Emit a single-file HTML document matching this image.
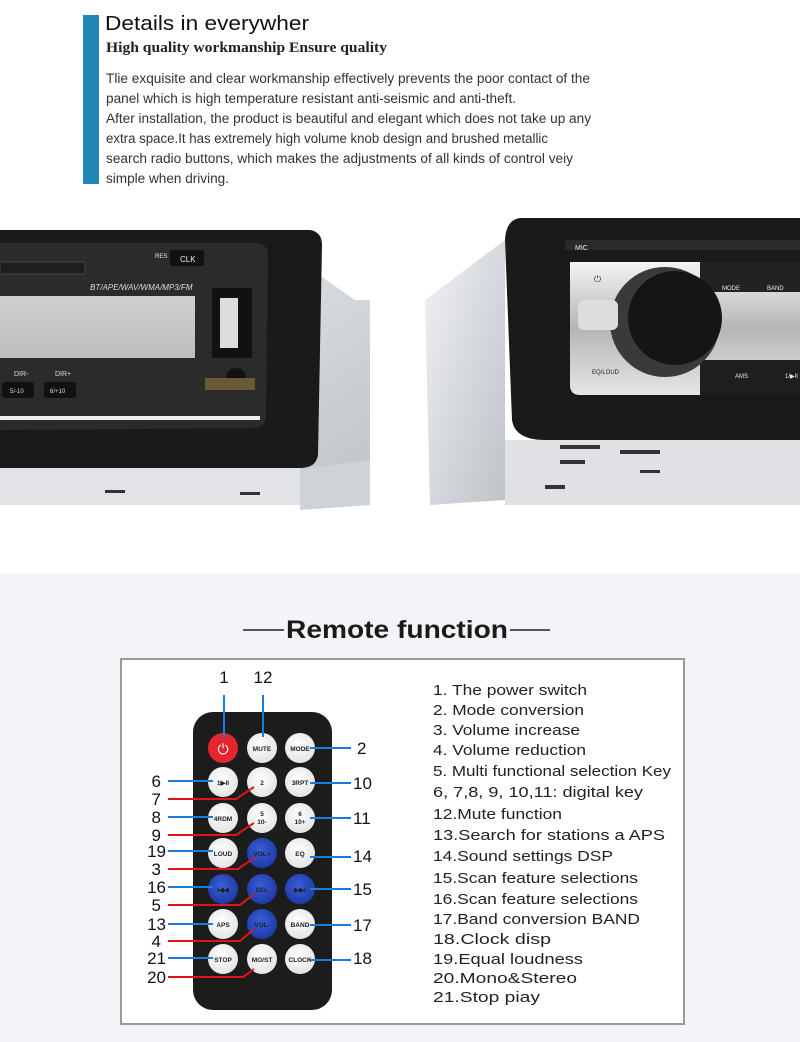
<!DOCTYPE html>
<html><head><meta charset="utf-8"><style>
html,body{margin:0;padding:0;width:800px;height:1042px;overflow:hidden;background:#fff}
svg{display:block}
</style></head><body>
<svg width="800" height="1042" viewBox="0 0 800 1042" xmlns="http://www.w3.org/2000/svg" font-family="Liberation Sans, sans-serif">
<defs>
<linearGradient id="metal" x1="0" y1="0" x2="1" y2="1"><stop offset="0" stop-color="#f2f3f5"/><stop offset="0.5" stop-color="#d6d9dd"/><stop offset="1" stop-color="#bfc3c8"/></linearGradient>
<linearGradient id="chrome" x1="0" y1="0" x2="0" y2="1"><stop offset="0" stop-color="#f4f4f4"/><stop offset="0.5" stop-color="#b5b5b5"/><stop offset="1" stop-color="#e6e6e6"/></linearGradient>
<linearGradient id="lcd" x1="0" y1="0" x2="0" y2="1"><stop offset="0" stop-color="#d0d0d0"/><stop offset="1" stop-color="#bdbdbd"/></linearGradient>
<radialGradient id="blue" cx="0.45" cy="0.4" r="0.6"><stop offset="0" stop-color="#3b5fd6"/><stop offset="1" stop-color="#1d3aa8"/></radialGradient>
<radialGradient id="white" cx="0.45" cy="0.4" r="0.6"><stop offset="0" stop-color="#fff"/><stop offset="1" stop-color="#e4e4e4"/></radialGradient>
</defs>
<!-- header -->
<rect x="83" y="15" width="16" height="169" fill="#1f86b5"/>
<text x="105" y="30" font-size="20" fill="#111" textLength="204" lengthAdjust="spacingAndGlyphs">Details in everywher</text>
<text x="106" y="52" font-size="15" font-weight="bold" font-family="Liberation Serif, serif" fill="#222" textLength="281" lengthAdjust="spacingAndGlyphs">High quality workmanship Ensure quality</text>
<g font-size="13.4" fill="#333">
<text x="106" y="83" textLength="484" lengthAdjust="spacingAndGlyphs">Tlie exquisite and clear workmanship effectively prevents the poor contact of the</text>
<text x="106" y="103" textLength="410" lengthAdjust="spacingAndGlyphs">panel which is high temperature resistant anti-seismic and anti-theft.</text>
<text x="106" y="123" textLength="485" lengthAdjust="spacingAndGlyphs">After installation, the product is beautiful and elegant which does not take up any</text>
<text x="106" y="143" textLength="442" lengthAdjust="spacingAndGlyphs">extra space.It has extremely high volume knob design and brushed metallic</text>
<text x="106" y="163" textLength="467" lengthAdjust="spacingAndGlyphs">search radio buttons, which makes the adjustments of all kinds of control veiy</text>
<text x="106" y="183" textLength="123" lengthAdjust="spacingAndGlyphs">simple when driving.</text>
</g>
<!-- left unit -->
<polygon points="290,255 355,300 370,300 370,505 300,505 0,505 0,455 290,455" fill="url(#metal)"/>
<polygon points="300,470 370,460 370,505 300,510" fill="#cfd2d6"/>
<rect x="0" y="455" width="300" height="50" fill="#e1e3e6"/>
<g fill="#333"><rect x="140" y="462" width="38" height="4"/><rect x="210" y="462" width="30" height="4"/><rect x="105" y="490" width="20" height="3"/><rect x="240" y="492" width="20" height="3"/></g>
<path d="M0,230 L310,230 Q322,232 322,245 L318,455 Q316,468 300,468 L0,468 Z" fill="#1a1a1a"/>
<path d="M0,243 L258,243 Q268,245 268,255 L266,418 Q264,428 252,428 L0,430 Z" fill="#2b2b2b"/>
<rect x="0" y="262" width="85" height="12" fill="#1e1e1e" stroke="#444"/>
<text x="90" y="290" font-size="8" font-style="italic" fill="#ddd">BT/APE/WAV/WMA/MP3/FM</text>
<rect x="0" y="296" width="195" height="62" fill="url(#lcd)"/>
<text x="155" y="258" font-size="6" fill="#eee">RES</text>
<rect x="170" y="250" width="34" height="16" rx="2" fill="#111"/><text x="180" y="262" font-size="8" fill="#eee">CLK</text>
<rect x="212" y="288" width="40" height="70" fill="#111"/><rect x="220" y="298" width="18" height="50" fill="#ddd"/>
<circle cx="236" cy="378" r="10" fill="#111"/>
<rect x="205" y="378" width="50" height="12" fill="#6b5a3a"/>
<text x="14" y="376" font-size="7" fill="#ddd">DIR-</text><text x="55" y="376" font-size="7" fill="#ddd">DIR+</text>
<rect x="2" y="382" width="32" height="16" rx="3" fill="#111"/><text x="10" y="393" font-size="6" fill="#ddd">5/-10</text>
<rect x="44" y="382" width="32" height="16" rx="3" fill="#111"/><text x="50" y="393" font-size="6" fill="#ddd">6/+10</text>
<rect x="0" y="416" width="260" height="4" fill="#eee"/>
<!-- right unit -->
<polygon points="425,300 505,240 505,500 430,505" fill="url(#metal)"/>
<polygon points="505,440 800,440 800,505 505,505" fill="#dfe1e4"/>
<g fill="#333"><rect x="560" y="445" width="40" height="4"/><rect x="620" y="450" width="40" height="4"/><rect x="560" y="460" width="25" height="4"/><rect x="640" y="470" width="20" height="3"/><rect x="545" y="485" width="20" height="4"/></g>
<path d="M520,218 L800,218 L800,440 L545,440 Q515,440 512,420 L505,240 Q506,220 520,218 Z" fill="#1a1a1a"/>
<rect x="565" y="240" width="235" height="10" fill="#2a2a2a"/>
<text x="575" y="250" font-size="7" fill="#eee">MIC</text>
<path d="M570,262 L800,262 L800,395 L580,395 Q570,395 570,385 Z" fill="url(#chrome)"/>
<rect x="700" y="262" width="100" height="30" fill="#222"/>
<rect x="700" y="360" width="100" height="35" fill="#1e1e1e"/>
<text x="722" y="290" font-size="6" fill="#eee">MODE</text><text x="767" y="290" font-size="6" fill="#eee">BAND</text>
<text x="735" y="378" font-size="6" fill="#eee">AMS</text><text x="785" y="378" font-size="6" fill="#eee">1/▶II</text>
<text x="592" y="374" font-size="6" fill="#222">EQ/LOUD</text>
<text x="594" y="282" font-size="9" fill="#333">⏻</text>
<circle cx="665" cy="322" r="55" fill="#3a3a3a"/>
<circle cx="675" cy="318" r="47" fill="#151515"/>
<rect x="578" y="300" width="40" height="30" rx="6" fill="#ddd"/>
<!-- gray section -->
<rect x="0" y="573" width="800" height="469" fill="#f2f4f7"/>
<line x1="243" y1="630" x2="284" y2="630" stroke="#222" stroke-width="1.5"/>
<line x1="510" y1="630" x2="550" y2="630" stroke="#222" stroke-width="1.5"/>
<text x="286" y="638" font-size="25" font-weight="bold" fill="#1a1a1a" textLength="222" lengthAdjust="spacingAndGlyphs">Remote function</text>
<rect x="121" y="659" width="563" height="365" fill="#fff" stroke="#9a9a9a" stroke-width="2"/>
<!-- remote -->
<rect x="193" y="712" width="139" height="298" rx="20" fill="#1c1c1c"/>
<circle cx="223" cy="748" r="15" fill="#e3262f"/>
<text x="223" y="754" font-size="14" fill="#fff" text-anchor="middle">⏻</text>
<g font-size="6.5" font-weight="bold" fill="#222" text-anchor="middle">
<circle cx="262" cy="748" r="15" fill="url(#white)"/><text x="262" y="751">MUTE</text>
<circle cx="300" cy="748" r="15" fill="url(#white)"/><text x="300" y="751">MODE</text>
<circle cx="223" cy="782" r="15" fill="url(#white)"/><text x="223" y="785">1▶II</text>
<circle cx="262" cy="782" r="15" fill="url(#white)"/><text x="262" y="785">2</text>
<circle cx="300" cy="782" r="15" fill="url(#white)"/><text x="300" y="785">3RPT</text>
<circle cx="223" cy="818" r="15" fill="url(#white)"/><text x="223" y="821">4RDM</text>
<circle cx="262" cy="818" r="15" fill="url(#white)"/><text x="262" y="816">5</text><text x="262" y="824">10-</text>
<circle cx="300" cy="818" r="15" fill="url(#white)"/><text x="300" y="816">6</text><text x="300" y="824">10+</text>
<circle cx="223" cy="853" r="15" fill="url(#white)"/><text x="223" y="856">LOUD</text>
<circle cx="262" cy="853" r="15" fill="url(#blue)"/><text x="262" y="856">VOL+</text>
<circle cx="300" cy="853" r="15" fill="url(#white)"/><text x="300" y="856">EQ</text>
<circle cx="223" cy="889" r="15" fill="url(#blue)"/><text x="223" y="892">I◀◀</text>
<circle cx="262" cy="889" r="15" fill="url(#blue)"/><text x="262" y="892">SEL</text>
<circle cx="300" cy="889" r="15" fill="url(#blue)"/><text x="300" y="892">▶▶I</text>
<circle cx="223" cy="924" r="15" fill="url(#white)"/><text x="223" y="927">APS</text>
<circle cx="262" cy="924" r="15" fill="url(#blue)"/><text x="262" y="927">VOL-</text>
<circle cx="300" cy="924" r="15" fill="url(#white)"/><text x="300" y="927">BAND</text>
<circle cx="223" cy="959" r="15" fill="url(#white)"/><text x="223" y="962">STOP</text>
<circle cx="262" cy="959" r="15" fill="url(#white)"/><text x="262" y="962">MO/ST</text>
<circle cx="300" cy="959" r="15" fill="url(#white)"/><text x="300" y="962">CLOCK</text>
</g>
<!-- connectors -->
<g stroke="#1a7be0" stroke-width="2" fill="none">
<line x1="224" y1="695" x2="224" y2="738"/>
<line x1="263" y1="695" x2="263" y2="737"/>
<line x1="310" y1="748" x2="351" y2="748"/>
<line x1="168" y1="781" x2="213" y2="781"/>
<line x1="310" y1="783" x2="351" y2="783"/>
<line x1="168" y1="817" x2="213" y2="817"/>
<line x1="310" y1="818" x2="351" y2="818"/>
<line x1="168" y1="851" x2="213" y2="851"/>
<line x1="310" y1="857" x2="351" y2="857"/>
<line x1="168" y1="887" x2="213" y2="887"/>
<line x1="310" y1="889" x2="351" y2="889"/>
<line x1="168" y1="924" x2="213" y2="924"/>
<line x1="310" y1="925" x2="351" y2="925"/>
<line x1="168" y1="958" x2="213" y2="958"/>
<line x1="310" y1="960" x2="351" y2="960"/>
</g>
<g stroke="#e0141a" stroke-width="2" fill="none">
<polyline points="168,799 236,799 254,787"/>
<polyline points="168,835 236,835 254,823"/>
<polyline points="168,869 238,869 254,858"/>
<polyline points="168,905 240,905 254,894"/>
<polyline points="168,941 240,941 254,929"/>
<polyline points="168,977 243,977 254,969"/>
</g>
<g font-size="17" fill="#111">
<text x="224" y="683" text-anchor="middle">1</text>
<text x="263" y="683" text-anchor="middle">12</text>
<text x="357" y="754">2</text>
<g text-anchor="end">
<text x="161" y="787">6</text><text x="161" y="805">7</text>
<text x="161" y="823">8</text><text x="161" y="841">9</text>
<text x="166" y="857">19</text><text x="161" y="875">3</text>
<text x="166" y="893">16</text><text x="161" y="911">5</text>
<text x="166" y="930">13</text><text x="161" y="947">4</text>
<text x="166" y="964">21</text><text x="166" y="983">20</text>
</g>
<text x="353" y="789">10</text><text x="353" y="824">11</text>
<text x="353" y="862">14</text><text x="353" y="895">15</text>
<text x="353" y="931">17</text><text x="353" y="964">18</text>
</g>
<g font-size="15" fill="#222">
<text x="433" y="695" textLength="154" lengthAdjust="spacingAndGlyphs">1. The power switch</text>
<text x="433" y="715" textLength="151" lengthAdjust="spacingAndGlyphs">2. Mode conversion</text>
<text x="433" y="735" textLength="147" lengthAdjust="spacingAndGlyphs">3. Volume increase</text>
<text x="433" y="755" textLength="153" lengthAdjust="spacingAndGlyphs">4. Volume reduction</text>
<text x="433" y="776" textLength="238" lengthAdjust="spacingAndGlyphs">5. Multi functional selection Key</text>
<text x="433" y="797" textLength="210" lengthAdjust="spacingAndGlyphs">6, 7,8, 9, 10,11: digital key</text>
<text x="433" y="819" textLength="129" lengthAdjust="spacingAndGlyphs">12.Mute function</text>
<text x="433" y="840" textLength="232" lengthAdjust="spacingAndGlyphs">13.Search for stations a APS</text>
<text x="433" y="861" textLength="180" lengthAdjust="spacingAndGlyphs">14.Sound settings DSP</text>
<text x="433" y="883" textLength="205" lengthAdjust="spacingAndGlyphs">15.Scan feature selections</text>
<text x="433" y="904" textLength="205" lengthAdjust="spacingAndGlyphs">16.Scan feature selections</text>
<text x="433" y="924" textLength="207" lengthAdjust="spacingAndGlyphs">17.Band conversion BAND</text>
<text x="433" y="944" textLength="118" lengthAdjust="spacingAndGlyphs">18.Clock disp</text>
<text x="433" y="964" textLength="150" lengthAdjust="spacingAndGlyphs">19.Equal loudness</text>
<text x="433" y="983" textLength="144" lengthAdjust="spacingAndGlyphs">20.Mono&amp;Stereo</text>
<text x="433" y="1002" textLength="107" lengthAdjust="spacingAndGlyphs">21.Stop piay</text>
</g>
</svg>
</body></html>
